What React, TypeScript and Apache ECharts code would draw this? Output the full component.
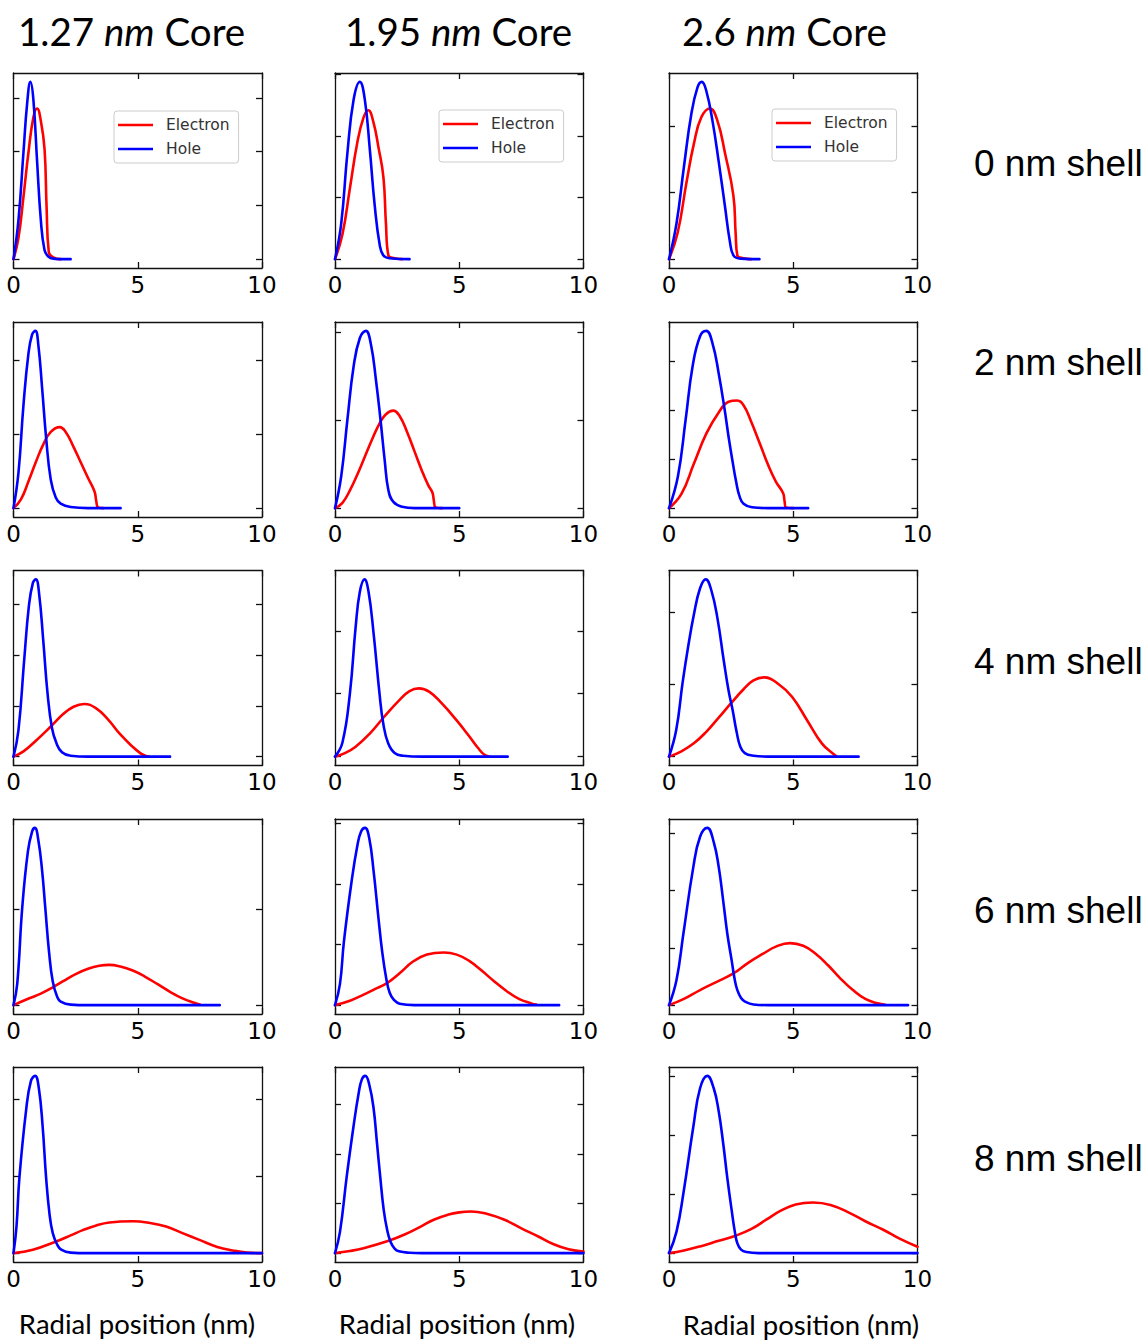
import React, { useEffect, useRef } from "react";
import * as echarts from "echarts";

// ---------- data ----------
const coreLabels = ["1.27", "1.95", "2.6"];
const shellLabels = ["0 nm shell", "2 nm shell", "4 nm shell", "6 nm shell", "8 nm shell"];
const seriesNames = ["Electron", "Hole"];
const xAxisTitle = "Radial position (nm)";
const xMin = 0;
const xMax = 10;
const xStep = 5;

// y tick spacing relative to each panel's tallest peak (hole peak = 1); rows = shells, cols = cores
const yTickStep = [
  [0.303, 0.348, 0.375],
  [0.416, 0.495, 0.2755],
  [0.286, 0.355, 0.407],
  [0.543, 0.342, 0.323],
  [0.435, 0.28, 0.333],
];

// 0 nm shell
const elec00 = [[0,0],[0.2,0.12],[0.4,0.35],[0.6,0.6],[0.8,0.8],[0.95,0.85],[1.1,0.78],[1.25,0.62],[1.33,0.3],[1.42,0.04],[1.6,0.01],[1.9,0]];
const hole00 = [[0,0],[0.2,0.22],[0.4,0.6],[0.55,0.88],[0.68,1.0],[0.8,0.9],[0.95,0.55],[1.1,0.22],[1.25,0.05],[1.4,0.015],[1.6,0.003],[2.0,0],[2.3,0]];
const elec01 = [[0,0],[0.3,0.14],[0.6,0.4],[0.9,0.66],[1.15,0.8],[1.34,0.84],[1.55,0.77],[1.75,0.63],[1.95,0.46],[2.05,0.2],[2.15,0.02],[2.4,0.005],[2.7,0]];
const hole01 = [[0,0],[0.25,0.2],[0.5,0.6],[0.75,0.9],[1.0,1.0],[1.2,0.9],[1.4,0.62],[1.6,0.3],[1.8,0.08],[1.95,0.02],[2.2,0.005],[3.0,0]];
const elec02 = [[0,0],[0.35,0.15],[0.7,0.43],[1.0,0.65],[1.3,0.8],[1.65,0.85],[1.95,0.78],[2.25,0.6],[2.59,0.36],[2.68,0.15],[2.75,0.02],[3.0,0.005],[3.3,0]];
const hole02 = [[0,0],[0.3,0.2],[0.6,0.52],[0.9,0.82],[1.15,0.97],[1.32,1.0],[1.5,0.95],[1.75,0.78],[2.0,0.55],[2.25,0.3],[2.45,0.1],[2.6,0.02],[2.9,0.003],[3.64,0]];

// 2 nm shell
const elec10 = [[0,0],[0.3,0.05],[0.6,0.15],[0.9,0.26],[1.2,0.36],[1.5,0.43],[1.86,0.457],[2.1,0.43],[2.4,0.35],[2.7,0.26],[3.0,0.17],[3.26,0.094],[3.33,0.04],[3.4,0.005],[3.6,0]];
const hole10 = [[0,0],[0.2,0.2],[0.4,0.58],[0.6,0.87],[0.75,0.98],[0.88,1.0],[1.0,0.92],[1.15,0.68],[1.32,0.385],[1.5,0.16],[1.7,0.06],[1.9,0.025],[2.3,0.006],[3.0,0],[4.31,0]];
const elec11 = [[0,0],[0.3,0.03],[0.6,0.1],[0.9,0.19],[1.2,0.29],[1.5,0.39],[1.8,0.48],[2.05,0.53],[2.34,0.55],[2.6,0.52],[2.9,0.43],[3.2,0.32],[3.5,0.21],[3.75,0.13],[3.92,0.088],[3.98,0.04],[4.04,0.005],[4.3,0]];
const hole11 = [[0,0],[0.25,0.18],[0.5,0.5],[0.75,0.8],[1.0,0.96],[1.24,1.0],[1.45,0.92],[1.65,0.72],[1.83,0.5],[2.0,0.27],[2.15,0.1],[2.35,0.035],[2.7,0.008],[3.2,0],[5.0,0]];
const elec12 = [[0,0],[0.5,0.08],[1.0,0.25],[1.5,0.42],[2.0,0.54],[2.4,0.6],[2.74,0.607],[3.0,0.58],[3.3,0.49],[3.65,0.366],[4.0,0.24],[4.3,0.15],[4.59,0.085],[4.65,0.04],[4.7,0.005],[5.0,0]];
const hole12 = [[0,0],[0.36,0.18],[0.67,0.5],[0.95,0.8],[1.25,0.97],[1.5,1.0],[1.75,0.93],[2.0,0.76],[2.24,0.555],[2.4,0.4],[2.55,0.27],[2.7,0.15],[2.84,0.066],[3.0,0.025],[3.34,0.005],[4.0,0],[5.6,0]];

// 4 nm shell
const elec20 = [[0,0],[0.4,0.03],[0.9,0.09],[1.5,0.17],[2.0,0.24],[2.4,0.28],[2.84,0.297],[3.3,0.275],[3.8,0.21],[4.3,0.125],[4.8,0.055],[5.1,0.02],[5.3,0.005],[5.45,0]];
const hole20 = [[0,0],[0.2,0.15],[0.43,0.545],[0.62,0.85],[0.78,0.98],[0.9,1.0],[1.03,0.92],[1.2,0.65],[1.37,0.357],[1.55,0.16],[1.73,0.075],[1.95,0.025],[2.3,0.005],[3.0,0],[6.3,0]];
const elec21 = [[0,0],[0.4,0.02],[0.83,0.056],[1.4,0.13],[1.98,0.225],[2.6,0.32],[3.0,0.37],[3.38,0.385],[3.8,0.365],[4.3,0.3],[4.88,0.207],[5.4,0.115],[5.75,0.05],[6.0,0.012],[6.2,0]];
const hole21 = [[0,0],[0.3,0.08],[0.6,0.357],[0.83,0.73],[1.0,0.93],[1.19,1.0],[1.35,0.93],[1.55,0.7],[1.79,0.357],[1.95,0.18],[2.14,0.075],[2.4,0.02],[2.74,0.005],[3.5,0],[6.95,0]];
const elec22 = [[0,0],[0.5,0.03],[1.0,0.075],[1.5,0.14],[2.0,0.22],[2.49,0.3],[3.0,0.38],[3.4,0.43],[3.83,0.447],[4.4,0.41],[4.95,0.338],[5.55,0.207],[6.15,0.075],[6.63,0.013],[6.75,0]];
const hole22 = [[0,0],[0.29,0.15],[0.55,0.42],[0.77,0.62],[1.0,0.8],[1.25,0.95],[1.48,1.0],[1.7,0.94],[1.95,0.78],[2.2,0.545],[2.4,0.37],[2.56,0.263],[2.72,0.14],[2.87,0.056],[3.05,0.02],[3.4,0.005],[4.0,0],[7.63,0]];

// 6 nm shell
const elec30 = [[0,0],[0.66,0.04],[1.1,0.065],[1.58,0.1],[2.0,0.135],[2.5,0.175],[3.0,0.205],[3.45,0.222],[3.85,0.227],[4.3,0.218],[4.8,0.195],[5.3,0.16],[5.8,0.118],[6.3,0.075],[6.8,0.038],[7.3,0.012],[7.5,0.004]];
const hole30 = [[0,0],[0.15,0.12],[0.35,0.547],[0.58,0.867],[0.75,0.98],[0.86,1.0],[1.0,0.93],[1.15,0.76],[1.28,0.547],[1.43,0.3],[1.58,0.133],[1.75,0.05],[1.9,0.02],[2.3,0.003],[3.0,0],[8.3,0]];
const elec31 = [[0,0],[0.6,0.025],[1.13,0.058],[1.6,0.09],[2.09,0.124],[2.6,0.18],[3.14,0.246],[3.7,0.285],[4.38,0.297],[4.9,0.285],[5.4,0.25],[5.9,0.195],[6.4,0.135],[6.9,0.08],[7.4,0.035],[7.9,0.01],[8.1,0.003]];
const hole31 = [[0,0],[0.2,0.12],[0.36,0.36],[0.67,0.7],[0.9,0.9],[1.05,0.98],[1.21,1.0],[1.38,0.94],[1.55,0.76],[1.75,0.49],[1.9,0.3],[2.06,0.152],[2.2,0.07],[2.37,0.03],[2.6,0.008],[3.2,0],[9.02,0]];
const elec32 = [[0,0],[0.6,0.035],[1.25,0.085],[1.9,0.13],[2.61,0.18],[3.2,0.24],[3.79,0.29],[4.3,0.33],[4.87,0.35],[5.4,0.335],[5.9,0.29],[6.4,0.225],[6.9,0.15],[7.4,0.085],[7.9,0.035],[8.4,0.01],[8.7,0.002]];
const hole32 = [[0,0],[0.3,0.14],[0.58,0.404],[0.98,0.78],[1.25,0.95],[1.54,1.0],[1.8,0.92],[2.0,0.78],[2.18,0.59],[2.35,0.4],[2.52,0.254],[2.65,0.14],[2.75,0.085],[2.9,0.04],[3.06,0.02],[3.4,0.004],[4.0,0],[9.62,0]];

// 8 nm shell
const elec40 = [[0,0],[0.78,0.019],[1.72,0.066],[2.3,0.1],[2.79,0.13],[3.3,0.155],[3.86,0.173],[4.8,0.18],[5.5,0.17],[6.14,0.15],[6.8,0.113],[7.48,0.075],[8.2,0.035],[8.82,0.015],[9.4,0.003],[10,0]];
const hole40 = [[0,0],[0.12,0.15],[0.24,0.43],[0.51,0.81],[0.7,0.97],[0.87,1.0],[1.02,0.93],[1.17,0.72],[1.31,0.43],[1.45,0.22],[1.58,0.113],[1.75,0.05],[1.92,0.02],[2.3,0.003],[3.0,0],[10,0]];
const elec41 = [[0,0],[0.6,0.012],[1.15,0.028],[2.16,0.07],[2.8,0.105],[3.45,0.15],[4.0,0.19],[4.53,0.216],[5.0,0.23],[5.47,0.235],[6.1,0.222],[6.82,0.188],[7.5,0.14],[8.18,0.094],[8.8,0.05],[9.4,0.022],[10,0.009]];
const hole41 = [[0,0],[0.2,0.12],[0.47,0.43],[0.74,0.71],[0.95,0.9],[1.08,0.98],[1.22,1.0],[1.38,0.95],[1.55,0.82],[1.69,0.62],[1.82,0.43],[1.96,0.244],[2.1,0.13],[2.23,0.066],[2.4,0.025],[2.57,0.01],[3.0,0.002],[3.5,0],[10,0]];
const elec42 = [[0,0],[0.6,0.015],[1.25,0.038],[2.0,0.07],[2.65,0.097],[3.3,0.135],[3.93,0.19],[4.5,0.24],[5.1,0.275],[5.8,0.286],[6.5,0.272],[7.28,0.226],[7.9,0.18],[8.62,0.132],[9.3,0.08],[10,0.036]];
const hole42 = [[0,0],[0.3,0.12],[0.58,0.338],[0.98,0.714],[1.25,0.93],[1.54,1.0],[1.8,0.93],[2.0,0.8],[2.18,0.62],[2.35,0.42],[2.52,0.244],[2.65,0.12],[2.75,0.056],[2.9,0.02],[3.12,0.006],[3.6,0],[10,0]];

const electronData = [
  [elec00, elec01, elec02],
  [elec10, elec11, elec12],
  [elec20, elec21, elec22],
  [elec30, elec31, elec32],
  [elec40, elec41, elec42],
];
const holeData = [
  [hole00, hole01, hole02],
  [hole10, hole11, hole12],
  [hole20, hole21, hole22],
  [hole30, hole31, hole32],
  [hole40, hole41, hole42],
];

// ---------- layout ----------
const W = 1148;
const H = 1342;
const gridLeft = [13.5, 335, 669];
const gridTop = [73, 322, 570.5, 819, 1067];
const gridW = 248.5;
const gridH = 195;
const titleX = [18, 345, 682];
const shellY = [163, 362, 661, 910, 1158];
const axisTitleX = [137, 457, 801];
const axisTitleY = [1323, 1323, 1324];
const legendPos = [
  [114, 111],
  [439, 110],
  [772, 109],
];

const RED = "#ff0000";
const BLUE = "#0000ff";
const FRAME = "#111";

function buildOption() {
  const grid: any[] = [];
  const xAxis: any[] = [];
  const yAxis: any[] = [];
  const series: any[] = [];
  const lineS = { color: FRAME, width: 1.3 };

  for (let r = 0; r < 5; r++) {
    for (let c = 0; c < 3; c++) {
      const p = r * 3 + c;
      grid.push({ left: gridLeft[c], top: gridTop[r], width: gridW, height: gridH, containLabel: false });
      const step = yTickStep[r][c];
      const yTicks: number[] = [];
      for (let k = 0; k * step <= 1.05; k++) yTicks.push(+(k * step).toFixed(4));
      const xCommon = {
        type: "value",
        gridIndex: p,
        min: xMin,
        max: xMax,
        interval: xStep,
        splitLine: { show: false },
        axisLine: { show: true, onZero: false, lineStyle: lineS },
        axisTick: { show: true, inside: true, length: 6, lineStyle: lineS },
      };
      xAxis.push({
        ...xCommon,
        position: "bottom",
        axisLabel: {
          show: true,
          color: "#000",
          fontFamily: "DejaVu Sans",
          fontSize: 23,
          margin: 5,
          showMinLabel: true,
          showMaxLabel: true,
          hideOverlap: false,
        },
      });
      xAxis.push({ ...xCommon, position: "top", axisLabel: { show: false } });
      const yCommon = {
        type: "value",
        gridIndex: p,
        min: -0.05,
        max: 1.05,
        splitLine: { show: false },
        axisLabel: { show: false },
        axisLine: { show: true, onZero: false, lineStyle: lineS },
        axisTick: { show: true, inside: true, length: 6, lineStyle: lineS, customValues: yTicks },
      };
      yAxis.push({ ...yCommon, position: "left" });
      yAxis.push({ ...yCommon, position: "right" });

      series.push({
        type: "line",
        name: seriesNames[0],
        xAxisIndex: 2 * p,
        yAxisIndex: 2 * p,
        data: electronData[r][c],
        showSymbol: false,
        symbol: "none",
        smooth: 0.45,
        lineStyle: { color: RED, width: 2.6, cap: "round", join: "round" },
        itemStyle: { color: RED },
        z: 2,
      });
      series.push({
        type: "line",
        name: seriesNames[1],
        xAxisIndex: 2 * p,
        yAxisIndex: 2 * p,
        data: holeData[r][c],
        showSymbol: false,
        symbol: "none",
        smooth: 0.45,
        lineStyle: { color: BLUE, width: 2.6, cap: "round", join: "round" },
        itemStyle: { color: BLUE },
        z: 3,
      });
    }
  }

  const legend = legendPos.map(([l, t]) => ({
    show: true,
    data: seriesNames,
    orient: "vertical",
    left: l,
    top: t,
    icon: "rect",
    itemWidth: 35,
    itemHeight: 2.5,
    itemGap: 8,
    selectedMode: false,
    padding: [6, 9, 6, 4],
    borderColor: "#ccc",
    borderWidth: 1,
    borderRadius: 3,
    backgroundColor: "rgba(255,255,255,0.8)",
    textStyle: { fontFamily: "DejaVu Sans", fontSize: 15.5, color: "#333", padding: [0, 0, 0, 8] },
  }));

  const graphic: any[] = [];
  coreLabels.forEach((lab, c) => {
    graphic.push({
      type: "text",
      x: titleX[c],
      y: 31,
      style: {
        text: `{a|${lab} }{b|nm}{a| Core}`,
        align: "left",
        verticalAlign: "middle",
        rich: {
          a: { fontFamily: "Lato", fontSize: 38.5, fill: "#000" },
          b: { fontFamily: "Lato", fontSize: 38.5, fontStyle: "italic", fill: "#000" },
        },
      },
    });
    graphic.push({
      type: "text",
      x: axisTitleX[c],
      y: axisTitleY[c],
      style: {
        text: xAxisTitle,
        align: "center",
        verticalAlign: "middle",
        fontFamily: "Lato",
        fontSize: 27.5,
        fill: "#000",
      },
    });
  });
  shellLabels.forEach((lab, r) => {
    graphic.push({
      type: "text",
      x: 974,
      y: shellY[r],
      style: {
        text: lab,
        align: "left",
        verticalAlign: "middle",
        fontFamily: "Liberation Sans",
        fontSize: 37,
        fill: "#000",
      },
    });
  });

  return {
    animation: false,
    backgroundColor: "#fff",
    grid,
    xAxis,
    yAxis,
    series,
    legend,
    graphic,
  };
}

export default function App() {
  const ref = useRef<HTMLDivElement>(null);
  useEffect(() => {
    document.body.style.margin = "0";
    if (!ref.current) return;
    const chart = echarts.init(ref.current, undefined, { renderer: "svg" });
    chart.setOption(buildOption() as any);
    return () => chart.dispose();
  }, []);
  return <div ref={ref} style={{ width: W, height: H }} />;
}
